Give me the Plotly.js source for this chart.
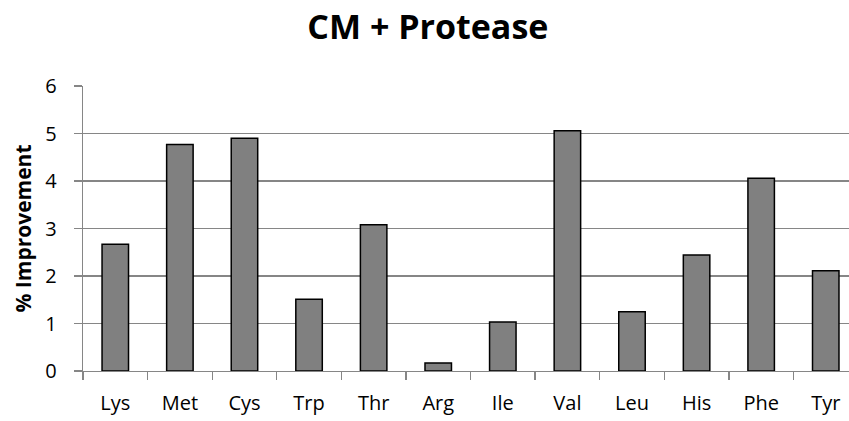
<!DOCTYPE html>
<html>
<head>
<meta charset="utf-8">
<script src="https://cdn.plot.ly/plotly-3.0.1.min.js"></script>
<style>html,body{margin:0;padding:0;background:#fff;}#chart{width:849px;height:421px;}</style>
</head>
<body>
<div id="chart"></div>
<script>
const categories = ["Lys","Met","Cys","Trp","Thr","Arg","Ile","Val","Leu","His","Phe","Tyr"];
const improvement = [2.67, 4.77, 4.90, 1.51, 3.08, 0.17, 1.03, 5.06, 1.25, 2.44, 4.06, 2.11];
const yTicks = [0,1,2,3,4,5,6];

const trace = {
  type: "bar",
  x: categories,
  y: improvement,
  width: 0.41,
  marker: {color: "#808080", line: {color: "#000000", width: 1.5}},
  hoverinfo: "skip"
};

const layout = {
  width: 849, height: 421,
  margin: {l: 83, r: 0, t: 86, b: 50, pad: 0},
  paper_bgcolor: "#ffffff", plot_bgcolor: "#ffffff",
  font: {family: "Open Sans, sans-serif", color: "#000000"},
  title: {text: "<b>CM + Protease</b>", font: {size: 34, family: "Open Sans, sans-serif", color: "#000"}, x: 0.504, xref: "container", y: 0.935, yref: "container", xanchor: "center", yanchor: "middle"},
  showlegend: false,
  xaxis: {
    type: "category",
    range: [-0.5, 11.36],
    showgrid: false,
    showline: true, linecolor: "#868686", linewidth: 1.3,
    ticks: "outside", tickson: "boundaries", ticklen: 8, tickcolor: "#868686", tickwidth: 1.3,
    ticklabelstandoff: 14,
    tickfont: {size: 20, family: "Open Sans, sans-serif", color: "#000"},
    fixedrange: true
  },
  yaxis: {
    range: [0, 6],
    tickvals: yTicks,
    ticktext: yTicks.map(String),
    showgrid: true, gridcolor: "#868686", gridwidth: 1.3,
    showline: true, linecolor: "#868686", linewidth: 1.3,
    ticks: "outside", ticklen: 8, tickcolor: "#868686", tickwidth: 1.3,
    ticklabelstandoff: 13,
    tickfont: {size: 20, family: "Open Sans, sans-serif", color: "#000"},
    zeroline: false,
    title: {text: "<b>% Improvement</b>", font: {size: 21, family: "Open Sans, sans-serif", color: "#000"}, standoff: 8},
    fixedrange: true
  }
};

Plotly.newPlot("chart", [trace], layout, {displayModeBar: false, staticPlot: true});
</script>
</body>
</html>
